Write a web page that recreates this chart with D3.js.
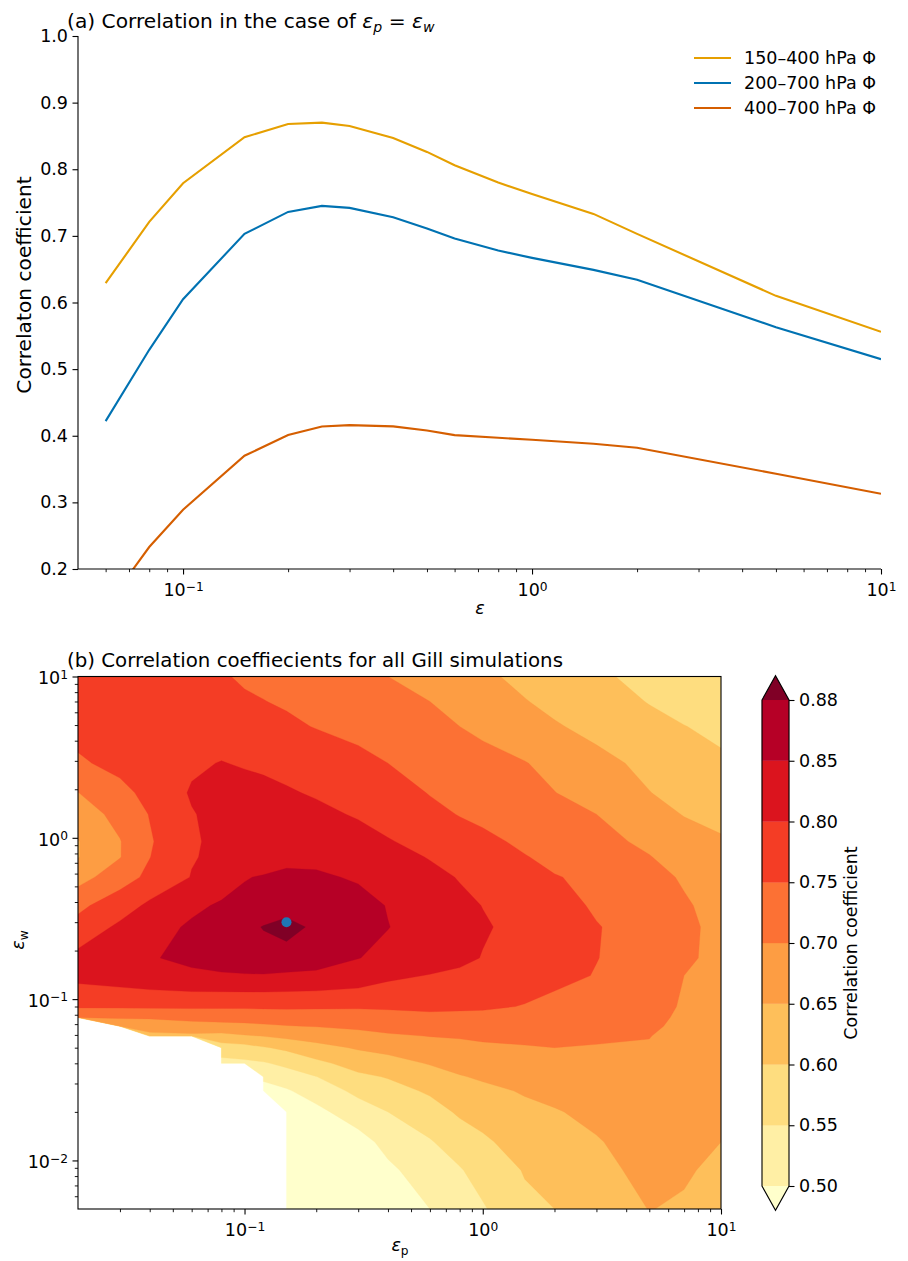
<!DOCTYPE html>
<html>
<head>
<meta charset="utf-8">
<script src="https://cdn.jsdelivr.net/npm/d3@7"></script>
<style>
  body { margin: 0; background: #fff; }
  svg text { font-family: "DejaVu Sans", sans-serif; fill: #000; }
</style>
</head>
<body>
<svg id="grafico" width="908" height="1261"></svg>
<script>
/* Panel (a): correlation against epsilon (eps_p = eps_w) */
const epsA = [0.06, 0.08, 0.1, 0.15, 0.2, 0.25, 0.3, 0.4, 0.5, 0.6, 0.8, 1, 1.5, 2, 5, 10]
const phi150_400 = [0.629, 0.721, 0.779, 0.848, 0.868, 0.870, 0.865, 0.847, 0.826, 0.806, 0.780, 0.763, 0.733, 0.703, 0.610, 0.556]
const phi200_700 = [0.422, 0.529, 0.605, 0.703, 0.736, 0.745, 0.742, 0.728, 0.711, 0.696, 0.678, 0.667, 0.649, 0.634, 0.563, 0.515]
const phi400_700 = [0.143, 0.233, 0.289, 0.370, 0.401, 0.414, 0.416, 0.414, 0.408, 0.401, 0.397, 0.394, 0.388, 0.382, 0.343, 0.313]
const seriesNames = ['150\u2013400 hPa \u03a6', '200\u2013700 hPa \u03a6', '400\u2013700 hPa \u03a6']
const seriesColors = ['#E69F00', '#0072B2', '#D55E00']
const yTicksA = [0.2, 0.3, 0.4, 0.5, 0.6, 0.7, 0.8, 0.9, 1.0]
const xMajors = [0.1, 1, 10]

/* Panel (b): correlation for every (eps_p, eps_w) pair, rows from eps_w = 10 down */
const epsP = [0.02, 0.03, 0.04, 0.06, 0.08, 0.1, 0.12, 0.15, 0.2, 0.3, 0.4, 0.6, 0.8, 1, 1.5, 2, 3, 5, 7, 10]
const epsW = [10, 7, 4.9, 2.9, 1.9, 1.4, 0.95, 0.76, 0.57, 0.38, 0.28, 0.18, 0.14, 0.09, 0.077, 0.068, 0.059, 0.05, 0.04, 0.033, 0.027, 0.02, 0.013, 0.0087, 0.005]
const corrGrid = [
  [0.775,0.770,0.765,0.760,0.753,0.746,0.740,0.733,0.723,0.710,0.700,0.681,0.668,0.658,0.639,0.626,0.608,0.586,0.573,0.560],
  [0.770,0.768,0.765,0.760,0.757,0.754,0.751,0.745,0.736,0.723,0.713,0.700,0.685,0.674,0.652,0.639,0.621,0.598,0.585,0.572],
  [0.762,0.770,0.775,0.775,0.772,0.768,0.763,0.758,0.748,0.734,0.724,0.710,0.700,0.689,0.669,0.654,0.638,0.613,0.601,0.590],
  [0.745,0.760,0.775,0.792,0.802,0.795,0.790,0.785,0.778,0.765,0.750,0.735,0.725,0.717,0.702,0.687,0.662,0.640,0.628,0.607],
  [0.699,0.740,0.760,0.805,0.815,0.820,0.815,0.805,0.795,0.780,0.770,0.748,0.737,0.728,0.712,0.701,0.680,0.651,0.637,0.625],
  [0.675,0.715,0.752,0.797,0.815,0.825,0.825,0.822,0.812,0.795,0.782,0.762,0.748,0.740,0.725,0.715,0.700,0.668,0.648,0.637],
  [0.648,0.698,0.745,0.795,0.810,0.820,0.826,0.830,0.830,0.820,0.803,0.785,0.770,0.760,0.742,0.730,0.715,0.690,0.669,0.655],
  [0.648,0.698,0.749,0.797,0.810,0.820,0.828,0.835,0.838,0.830,0.820,0.797,0.785,0.778,0.752,0.740,0.724,0.702,0.680,0.665],
  [0.680,0.730,0.760,0.802,0.825,0.848,0.853,0.862,0.857,0.845,0.835,0.815,0.797,0.788,0.770,0.752,0.742,0.715,0.695,0.675],
  [0.740,0.775,0.810,0.840,0.856,0.860,0.866,0.871,0.872,0.866,0.848,0.827,0.812,0.799,0.779,0.765,0.745,0.728,0.705,0.685],
  [0.765,0.810,0.830,0.857,0.865,0.874,0.881,0.887,0.876,0.866,0.851,0.832,0.818,0.805,0.785,0.773,0.752,0.733,0.708,0.690],
  [0.815,0.825,0.848,0.856,0.862,0.866,0.872,0.872,0.868,0.851,0.840,0.825,0.812,0.798,0.785,0.772,0.751,0.732,0.705,0.692],
  [0.815,0.825,0.835,0.845,0.847,0.848,0.848,0.845,0.842,0.830,0.810,0.798,0.790,0.782,0.770,0.762,0.748,0.728,0.700,0.692],
  [0.757,0.758,0.758,0.758,0.757,0.757,0.758,0.758,0.757,0.756,0.757,0.763,0.760,0.757,0.748,0.738,0.724,0.718,0.695,0.690],
  [0.702,0.703,0.705,0.716,0.718,0.720,0.722,0.725,0.726,0.728,0.733,0.736,0.735,0.737,0.733,0.729,0.719,0.712,0.692,0.688],
  [null,0.680,0.675,0.680,0.685,0.688,0.693,0.698,0.702,0.709,0.715,0.720,0.721,0.723,0.722,0.721,0.712,0.707,0.690,0.685],
  [null,null,0.635,0.640,0.635,0.645,0.651,0.662,0.671,0.684,0.694,0.701,0.704,0.708,0.710,0.711,0.705,0.701,0.687,0.682],
  [null,null,null,null,0.575,0.582,0.596,0.610,0.634,0.655,0.664,0.680,0.687,0.692,0.697,0.700,0.698,0.697,0.683,0.678],
  [null,null,null,null,0.535,0.540,0.545,0.562,0.588,0.620,0.633,0.653,0.666,0.673,0.683,0.687,0.689,0.692,0.680,0.672],
  [null,null,null,null,null,null,0.510,0.525,0.549,0.590,0.603,0.630,0.647,0.656,0.669,0.675,0.681,0.687,0.675,0.668],
  [null,null,null,null,null,null,0.480,0.495,0.522,0.562,0.581,0.607,0.630,0.639,0.654,0.662,0.672,0.682,0.670,0.663],
  [null,null,null,null,null,null,null,0.460,0.487,0.527,0.550,0.579,0.607,0.618,0.639,0.647,0.660,0.676,0.665,0.655],
  [null,null,null,null,null,null,null,0.430,0.450,0.480,0.516,0.546,0.574,0.592,0.621,0.633,0.647,0.668,0.660,0.650],
  [null,null,null,null,null,null,null,0.400,0.420,0.450,0.490,0.526,0.546,0.570,0.603,0.619,0.640,0.660,0.655,0.640],
  [null,null,null,null,null,null,null,0.370,0.390,0.420,0.460,0.500,0.525,0.545,0.590,0.600,0.625,0.651,0.645,0.630]
]
const levels = [0.50, 0.55, 0.60, 0.65, 0.70, 0.75, 0.80, 0.85, 0.88]
const underColor = '#ffffcc'
const bandColors = ['#ffefa5', '#fedd7f', '#febf5a', '#fd9d43', '#fc7134', '#f43d25', '#db141e', '#b60026']
const overColor = '#800026'
const bestPoint = [0.15, 0.3]
const yMajorsB = [0.01, 0.1, 1, 10]

const svg = d3.select('#grafico')
const FS = 17.5
const TICK = 5.5, TICK_MIN = 3.2, PAD = 4.5
const MINUS = '\u2212'

/* helpers */
function logMinors(lo, hi) {
  let out = []
  for (let d = Math.floor(Math.log10(lo)); d <= Math.ceil(Math.log10(hi)); d++) {
    for (let k = 2; k <= 9; k++) {
      let v = k * Math.pow(10, d)
      if (v > lo * 1.0001 && v < hi * 0.9999) out.push(v)
    }
  }
  return out
}

function superIndice(sel) {
  sel.each(function (d) {
    let e = Math.round(Math.log10(d))
    let t = d3.select(this).text('')
    t.append('tspan').text('10')
    t.append('tspan').attr('dy', '-0.45em').attr('font-size', '0.7em').text(String(e).replace('-', MINUS))
  })
}

function estiloEje(g) {
  g.select('.domain').remove()
  g.attr('font-family', '"DejaVu Sans", sans-serif').attr('font-size', FS)
  g.selectAll('.tick line').attr('stroke', '#000').attr('stroke-width', 1.1)
}

function ejeLog(pos, scale, orient, majors, minors) {
  let tr = orient === 'bottom' ? `translate(0,${pos})` : `translate(${pos},0)`
  let gen = orient === 'bottom' ? d3.axisBottom(scale) : d3.axisLeft(scale)
  let g = svg.append('g').attr('transform', tr)
  g.call(gen.tickValues(majors).tickSize(TICK).tickPadding(PAD))
  estiloEje(g)
  g.selectAll('.tick text').attr('dy', orient === 'bottom' ? '0.98em' : '0.42em').call(superIndice)
  let gm = svg.append('g').attr('transform', tr)
  let genM = orient === 'bottom' ? d3.axisBottom(scale) : d3.axisLeft(scale)
  gm.call(genM.tickValues(minors).tickSize(TICK_MIN).tickFormat(''))
  estiloEje(gm)
  gm.selectAll('.tick line').attr('stroke-width', 0.9)
}

/* ---------- panel (a) ---------- */
const xA = d3.scaleLog().domain([0.05, 10]).range([78, 881])
const yA = d3.scaleLinear().domain([0.2, 1.0]).range([569, 36])

svg.append('clipPath').attr('id', 'clipA')
  .append('rect').attr('x', 78).attr('y', 36).attr('width', 803).attr('height', 533)

const linea = d3.line().x(d => xA(d[0])).y(d => yA(d[1]))
const series = [phi150_400, phi200_700, phi400_700]
series.forEach((vals, k) => {
  svg.append('path')
    .datum(epsA.map((e, i) => [e, vals[i]]))
    .attr('d', linea)
    .attr('fill', 'none')
    .attr('stroke', seriesColors[k])
    .attr('stroke-width', 2.1)
    .attr('clip-path', 'url(#clipA)')
})

ejeLog(569, xA, 'bottom', xMajors, logMinors(0.05, 10))
let gyA = svg.append('g').attr('transform', 'translate(78,0)')
gyA.call(d3.axisLeft(yA).tickValues(yTicksA).tickSize(TICK).tickPadding(PAD).tickFormat(d3.format('.1f')))
estiloEje(gyA)

svg.append('line').attr('x1', 78).attr('x2', 78).attr('y1', 36).attr('y2', 569).attr('stroke', '#000').attr('stroke-width', 1.1)
svg.append('line').attr('x1', 78).attr('x2', 881).attr('y1', 569).attr('y2', 569).attr('stroke', '#000').attr('stroke-width', 1.1)

/* legend */
seriesNames.forEach((name, k) => {
  let yy = 58 + k * 25
  svg.append('line').attr('x1', 694).attr('x2', 731).attr('y1', yy).attr('y2', yy)
    .attr('stroke', seriesColors[k]).attr('stroke-width', 2.1)
  svg.append('text').attr('x', 744).attr('y', yy + 6).attr('font-size', FS).text(name)
})

/* titles and labels (a) */
let tA = svg.append('text').attr('x', 67).attr('y', 28).attr('font-size', 20.2)
tA.append('tspan').text('(a) Correlation in the case of ')
tA.append('tspan').attr('font-style', 'italic').text('\u03b5')
tA.append('tspan').attr('font-style', 'italic').attr('font-size', 14.1).attr('dy', 4).text('p')
tA.append('tspan').attr('dy', -4).text(' = ')
tA.append('tspan').attr('font-style', 'italic').text('\u03b5')
tA.append('tspan').attr('font-style', 'italic').attr('font-size', 14.1).attr('dy', 4).text('w')

svg.append('text').attr('x', 480).attr('y', 614).attr('text-anchor', 'middle')
  .attr('font-size', FS).attr('font-style', 'italic').text('\u03b5')
svg.append('text').attr('transform', 'translate(31,285) rotate(-90)').attr('text-anchor', 'middle')
  .attr('font-size', 20.2).text('Correlaton coefficient')

/* ---------- panel (b) ---------- */
const xB = d3.scaleLog().domain([0.02, 10]).range([78, 721])
const yB = d3.scaleLog().domain([0.005, 10]).range([1209, 676.5])

svg.append('clipPath').attr('id', 'clipB')
  .append('rect').attr('x', 78).attr('y', 676.5).attr('width', 643).attr('height', 532.5)

const nx = epsP.length, ny = epsW.length
const valores = []
corrGrid.forEach(fila => fila.forEach(v => valores.push(v == null ? -1000 : v)))

const umbrales = [0].concat(levels)
const colores = [underColor].concat(bandColors, [overColor])
const bandas = d3.contours().size([nx, ny]).thresholds(umbrales)(valores)

function interpLog(arr, c) {
  let u = Math.max(0, Math.min(arr.length - 1, c - 0.5))
  let i = Math.min(Math.floor(u), arr.length - 2)
  let f = u - i
  return Math.pow(10, Math.log10(arr[i]) * (1 - f) + Math.log10(arr[i + 1]) * f)
}

const ruta = d3.geoPath()
const gBandas = svg.append('g').attr('clip-path', 'url(#clipB)')
bandas.forEach((b, k) => {
  let geo = {
    type: 'MultiPolygon',
    coordinates: b.coordinates.map(poly => poly.map(ring => ring.map(p => [xB(interpLog(epsP, p[0])), yB(interpLog(epsW, p[1]))])))
  }
  gBandas.append('path').attr('d', ruta(geo)).attr('fill', colores[k]).attr('fill-rule', 'evenodd')
    .attr('stroke', colores[k]).attr('stroke-width', 0.3)
})

svg.append('circle').attr('cx', xB(bestPoint[0])).attr('cy', yB(bestPoint[1])).attr('r', 5).attr('fill', '#1f77b4')

ejeLog(1209, xB, 'bottom', xMajors, logMinors(0.02, 10))
ejeLog(78, yB, 'left', yMajorsB, logMinors(0.005, 10))

svg.append('rect').attr('x', 78).attr('y', 676.5).attr('width', 643).attr('height', 532.5)
  .attr('fill', 'none').attr('stroke', '#000').attr('stroke-width', 1.1)

svg.append('text').attr('x', 67).attr('y', 667).attr('font-size', 19.8)
  .text('(b) Correlation coeffiecients for all Gill simulations')

let xl = svg.append('text').attr('x', 400).attr('y', 1251).attr('text-anchor', 'middle').attr('font-size', FS)
xl.append('tspan').attr('font-style', 'italic').text('\u03b5')
xl.append('tspan').attr('font-size', 12.2).attr('dy', 3.5).text('p')
let yl = svg.append('text').attr('transform', 'translate(24,940) rotate(-90)').attr('text-anchor', 'middle').attr('font-size', FS)
yl.append('tspan').attr('font-style', 'italic').text('\u03b5')
yl.append('tspan').attr('font-size', 12.2).attr('dy', 3.5).text('w')

/* colorbar */
const cbX = 762, cbW = 27, cbTop = 700, cbBot = 1186
const cbExt = (cbBot - cbTop) * 0.05
const cbScale = d3.scaleLinear().domain([0, levels.length - 1]).range([cbBot, cbTop])
bandColors.forEach((c, i) => {
  svg.append('rect').attr('x', cbX).attr('y', cbScale(i + 1)).attr('width', cbW)
    .attr('height', cbScale(i) - cbScale(i + 1)).attr('fill', c).attr('stroke', c).attr('stroke-width', 0.3)
})
svg.append('path').attr('d', `M${cbX},${cbTop}L${cbX + cbW / 2},${cbTop - cbExt}L${cbX + cbW},${cbTop}Z`).attr('fill', overColor)
svg.append('path').attr('d', `M${cbX},${cbBot}L${cbX + cbW / 2},${cbBot + cbExt}L${cbX + cbW},${cbBot}Z`).attr('fill', underColor)
svg.append('path')
  .attr('d', `M${cbX},${cbTop}L${cbX + cbW / 2},${cbTop - cbExt}L${cbX + cbW},${cbTop}L${cbX + cbW},${cbBot}L${cbX + cbW / 2},${cbBot + cbExt}L${cbX},${cbBot}Z`)
  .attr('fill', 'none').attr('stroke', '#000').attr('stroke-width', 1.1)
let gcb = svg.append('g').attr('transform', `translate(${cbX + cbW},0)`)
gcb.call(d3.axisRight(cbScale).tickValues(d3.range(levels.length)).tickSize(TICK).tickPadding(PAD)
  .tickFormat(i => levels[i].toFixed(2)))
estiloEje(gcb)
svg.append('text').attr('transform', 'translate(857,943) rotate(-90)').attr('text-anchor', 'middle')
  .attr('font-size', FS).text('Correlation coefficient')
</script>
</body>
</html>
